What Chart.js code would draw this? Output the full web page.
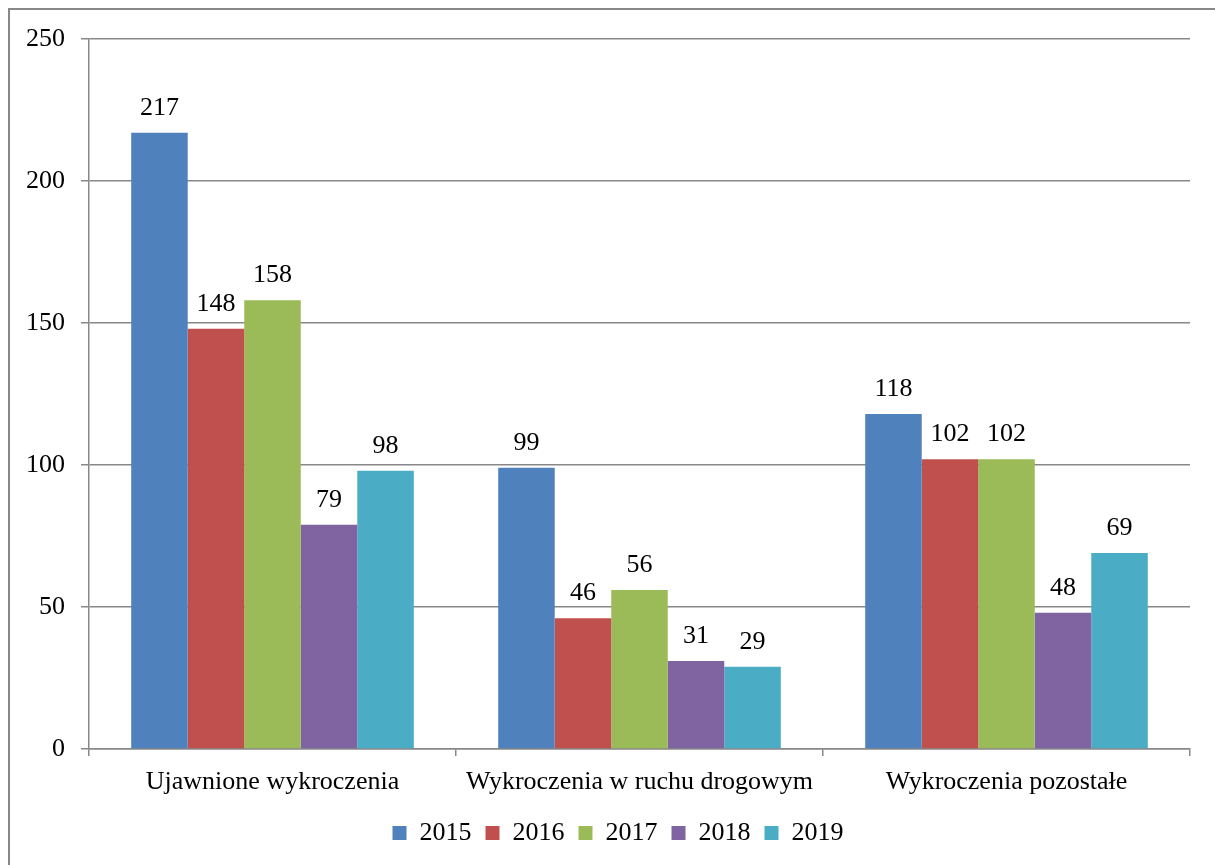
<!DOCTYPE html>
<html><head><meta charset="utf-8">
<script src="https://cdn.jsdelivr.net/npm/chart.js@4/dist/chart.umd.min.js"></script>
<style>html,body{margin:0;padding:0;background:#fff}#wrap{width:1215px;height:865px;position:relative}</style>
</head><body><div id="wrap"><canvas id="c" width="1215" height="865"></canvas></div>
<script>
const categories = ["Ujawnione wykroczenia", "Wykroczenia w ruchu drogowym", "Wykroczenia pozostałe"];
const years = ["2015", "2016", "2017", "2018", "2019"];
const v2015 = [217, 99, 118];
const v2016 = [148, 46, 102];
const v2017 = [158, 56, 102];
const v2018 = [79, 31, 48];
const v2019 = [98, 29, 69];
const colors = ["#4F81BD", "#C0504D", "#9BBB59", "#8064A2", "#4BACC6"];
const seriesValues = [v2015, v2016, v2017, v2018, v2019];
const FONT = "'Liberation Serif', 'Times New Roman', serif";
const FS = 26;
const GRID = "#888888";

const borderPlugin = {
  id: 'outerBorder',
  beforeDraw(chart) {
    const ctx = chart.ctx;
    ctx.save();
    ctx.strokeStyle = GRID;
    ctx.lineWidth = 2;
    ctx.beginPath();
    ctx.moveTo(9, 870);
    ctx.lineTo(9, 9);
    ctx.lineTo(1220, 9);
    ctx.stroke();
    ctx.restore();
  }
};
const legendShift = {
  id: 'legendShift',
  afterLayout(chart) {
    const lg = chart.legend;
    if (!lg) return;
    lg.left += 46;
    lg.right += 0;
    lg.width = lg.right - lg.left;
  }
};
const labelPlugin = {
  id: 'valueLabels',
  afterDatasetsDraw(chart) {
    const ctx = chart.ctx;
    ctx.save();
    ctx.font = FS + "px " + FONT;
    ctx.fillStyle = "#000";
    ctx.textAlign = "center";
    ctx.textBaseline = "alphabetic";
    chart.data.datasets.forEach((ds, i) => {
      chart.getDatasetMeta(i).data.forEach((bar, j) => {
        ctx.fillText(String(ds.data[j]), bar.x, bar.y - 18);
      });
    });
    ctx.restore();
  }
};

new Chart(document.getElementById('c'), {
  type: 'bar',
  data: {
    labels: categories,
    datasets: years.map((y, i) => ({
      label: y, data: seriesValues[i], backgroundColor: colors[i], borderWidth: 0,
      categoryPercentage: 0.77, barPercentage: 1.0
    }))
  },
  options: {
    responsive: false, animation: false, devicePixelRatio: 1,
    layout: { padding: { top: 39, right: 25, left: 0, bottom: 9 } },
    plugins: {
      tooltip: { enabled: false },
      legend: {
        position: 'bottom',
        labels: { font: { family: FONT, size: FS }, color: '#000', boxWidth: 14, boxHeight: 14, padding: 14 }
      }
    },
    scales: {
      x: {
        afterFit(s) { s.height = 57; },
        grid: { offset: true, drawOnChartArea: false, drawTicks: true, tickLength: 7, color: GRID, lineWidth: 1.5 },
        border: { color: GRID, width: 1.5 },
        ticks: { font: { family: FONT, size: FS }, color: '#000', padding: 11, maxRotation: 0 }
      },
      y: {
        min: 0, max: 250,
        afterFit(s) { s.width = 89; },
        grid: { color: GRID, lineWidth: 1.5, drawTicks: true, tickLength: 8 },
        border: { color: GRID, width: 1.5 },
        ticks: { stepSize: 50, font: { family: FONT, size: FS }, color: '#000', padding: 16 }
      }
    }
  },
  plugins: [borderPlugin, legendShift, labelPlugin]
});
</script></body></html>
